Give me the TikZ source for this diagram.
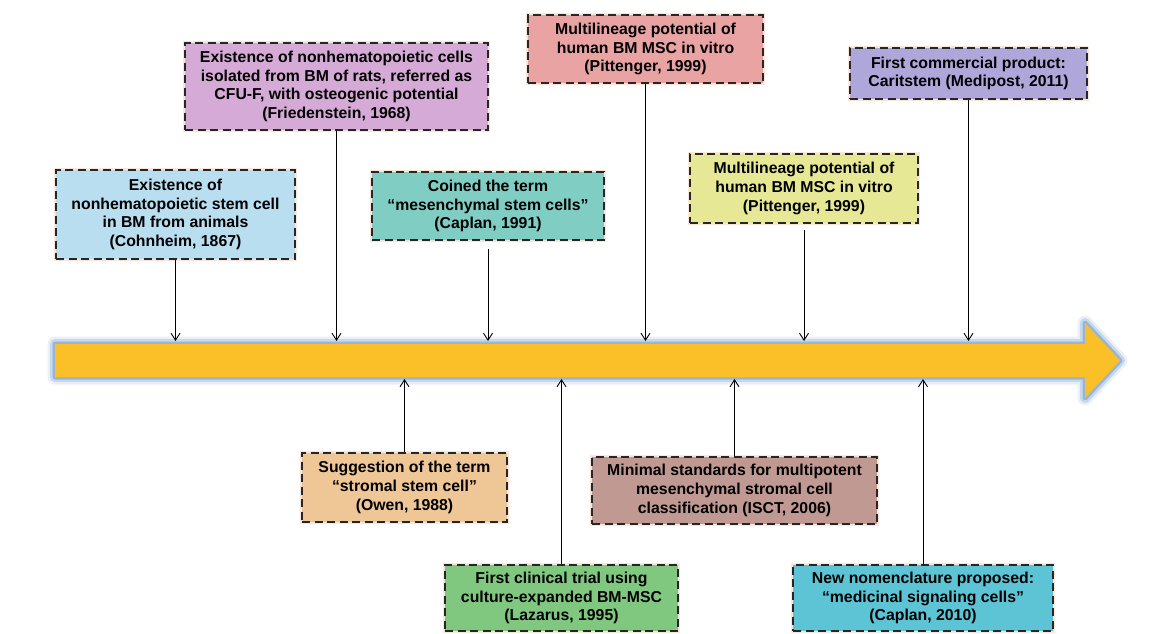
\documentclass[tikz,border=0pt]{standalone}
\usepackage{fontspec}
\setmainfont{Liberation Sans}
\usetikzlibrary{arrows.meta}
\definecolor{cCoh}{RGB}{184,222,240}
\definecolor{cFri}{RGB}{214,170,214}
\definecolor{cCap}{RGB}{128,205,196}
\definecolor{cPitA}{RGB}{233,163,163}
\definecolor{cPitB}{RGB}{230,232,150}
\definecolor{cCar}{RGB}{175,166,218}
\definecolor{cOwe}{RGB}{239,199,150}
\definecolor{cLaz}{RGB}{128,200,128}
\definecolor{cIsc}{RGB}{192,154,146}
\definecolor{cCapB}{RGB}{92,196,212}
\definecolor{cBar}{RGB}{251,192,40}
\definecolor{cGlow}{RGB}{79,129,189}
\definecolor{cShad}{RGB}{240,170,130}
\begin{document}
\begin{tikzpicture}[x=1pt,y=-1pt,
  evbox/.style={draw=black!85, line width=1.4pt, dash pattern=on 8pt off 4.5pt,
    align=center, inner sep=0pt, font=\bfseries\fontsize{15.8}{18.6}\selectfont,
    preaction={draw=cShad!30, line width=3.5pt, solid}},
  arr/.style={draw=black, line width=0.9pt, -{Straight Barb[length=7pt,width=9pt]}}]
\useasboundingbox (0,0) rectangle (1161,633);
% timeline bar with glow
\def\barpath{(55,344) -- (1085,344) -- (1085,323) -- (1120,360.5) -- (1085,398) -- (1085,377) -- (55,377) -- cycle}
\draw[cGlow, opacity=0.12, line width=15pt, line join=round] \barpath;
\draw[cGlow, opacity=0.22, line width=10pt, line join=round] \barpath;
\draw[cGlow, opacity=0.4, line width=5pt, line join=round] \barpath;
\fill[cBar] \barpath;
\coordinate (bt) at (0,341);
\coordinate (bb) at (0,379);
% upper boxes
\node[evbox, fill=cCoh, minimum width=239pt, minimum height=89pt] (coh) at (175.5,214.5)
  {Existence of\\nonhematopoietic stem cell\\in BM from animals\\(Cohnheim, 1867)};
\node[evbox, fill=cFri, minimum width=303pt, minimum height=87pt] (fri) at (336.5,86.5)
  {Existence of nonhematopoietic cells\\isolated from BM of rats, referred as\\CFU-F, with osteogenic potential\\(Friedenstein, 1968)};
\node[evbox, fill=cCap, minimum width=232pt, minimum height=68pt] (cap) at (488,206)
  {Coined the term\\``mesenchymal stem cells''\\(Caplan, 1991)};
\node[evbox, fill=cPitA, minimum width=235pt, minimum height=68pt] (pita) at (645.5,49)
  {Multilineage potential of\\human BM MSC in vitro\\(Pittenger, 1999)};
\node[evbox, fill=cPitB, minimum width=228pt, minimum height=69pt] (pitb) at (804,188.5)
  {Multilineage potential of\\human BM MSC in vitro\\(Pittenger, 1999)};
\node[evbox, fill=cCar, minimum width=237pt, minimum height=51pt] (car) at (968.5,73.5)
  {First commercial product:\\Caritstem (Medipost, 2011)};
% lower boxes
\node[evbox, fill=cOwe, minimum width=205pt, minimum height=69pt] (owe) at (404.5,487.5)
  {Suggestion of the term\\``stromal stem cell''\\(Owen, 1988)};
\node[evbox, fill=cLaz, minimum width=233pt, minimum height=66pt] (laz) at (561.5,598)
  {First clinical trial using\\culture-expanded BM-MSC\\(Lazarus, 1995)};
\node[evbox, fill=cIsc, minimum width=285pt, minimum height=67pt] (isc) at (734.5,490.5)
  {Minimal standards for multipotent\\mesenchymal stromal cell\\classification (ISCT, 2006)};
\node[evbox, fill=cCapB, minimum width=260pt, minimum height=66pt] (capb) at (923,598)
  {New nomenclature proposed:\\``medicinal signaling cells''\\(Caplan, 2010)};
% connectors
\draw[arr] (coh.south) -- (coh.south |- bt);
\draw[arr] (fri.south) -- (fri.south |- bt);
\draw[arr] ([yshift=-8pt]cap.south) -- (cap.south |- bt);
\draw[arr] (pita.south) -- (pita.south |- bt);
\draw[arr] ([yshift=-6pt]pitb.south) -- (pitb.south |- bt);
\draw[arr] (car.south) -- (car.south |- bt);
\draw[arr] (owe.north) -- (owe.north |- bb);
\draw[arr] (laz.north) -- (laz.north |- bb);
\draw[arr] (isc.north) -- (isc.north |- bb);
\draw[arr] (capb.north) -- (capb.north |- bb);
\end{tikzpicture}
\end{document}
